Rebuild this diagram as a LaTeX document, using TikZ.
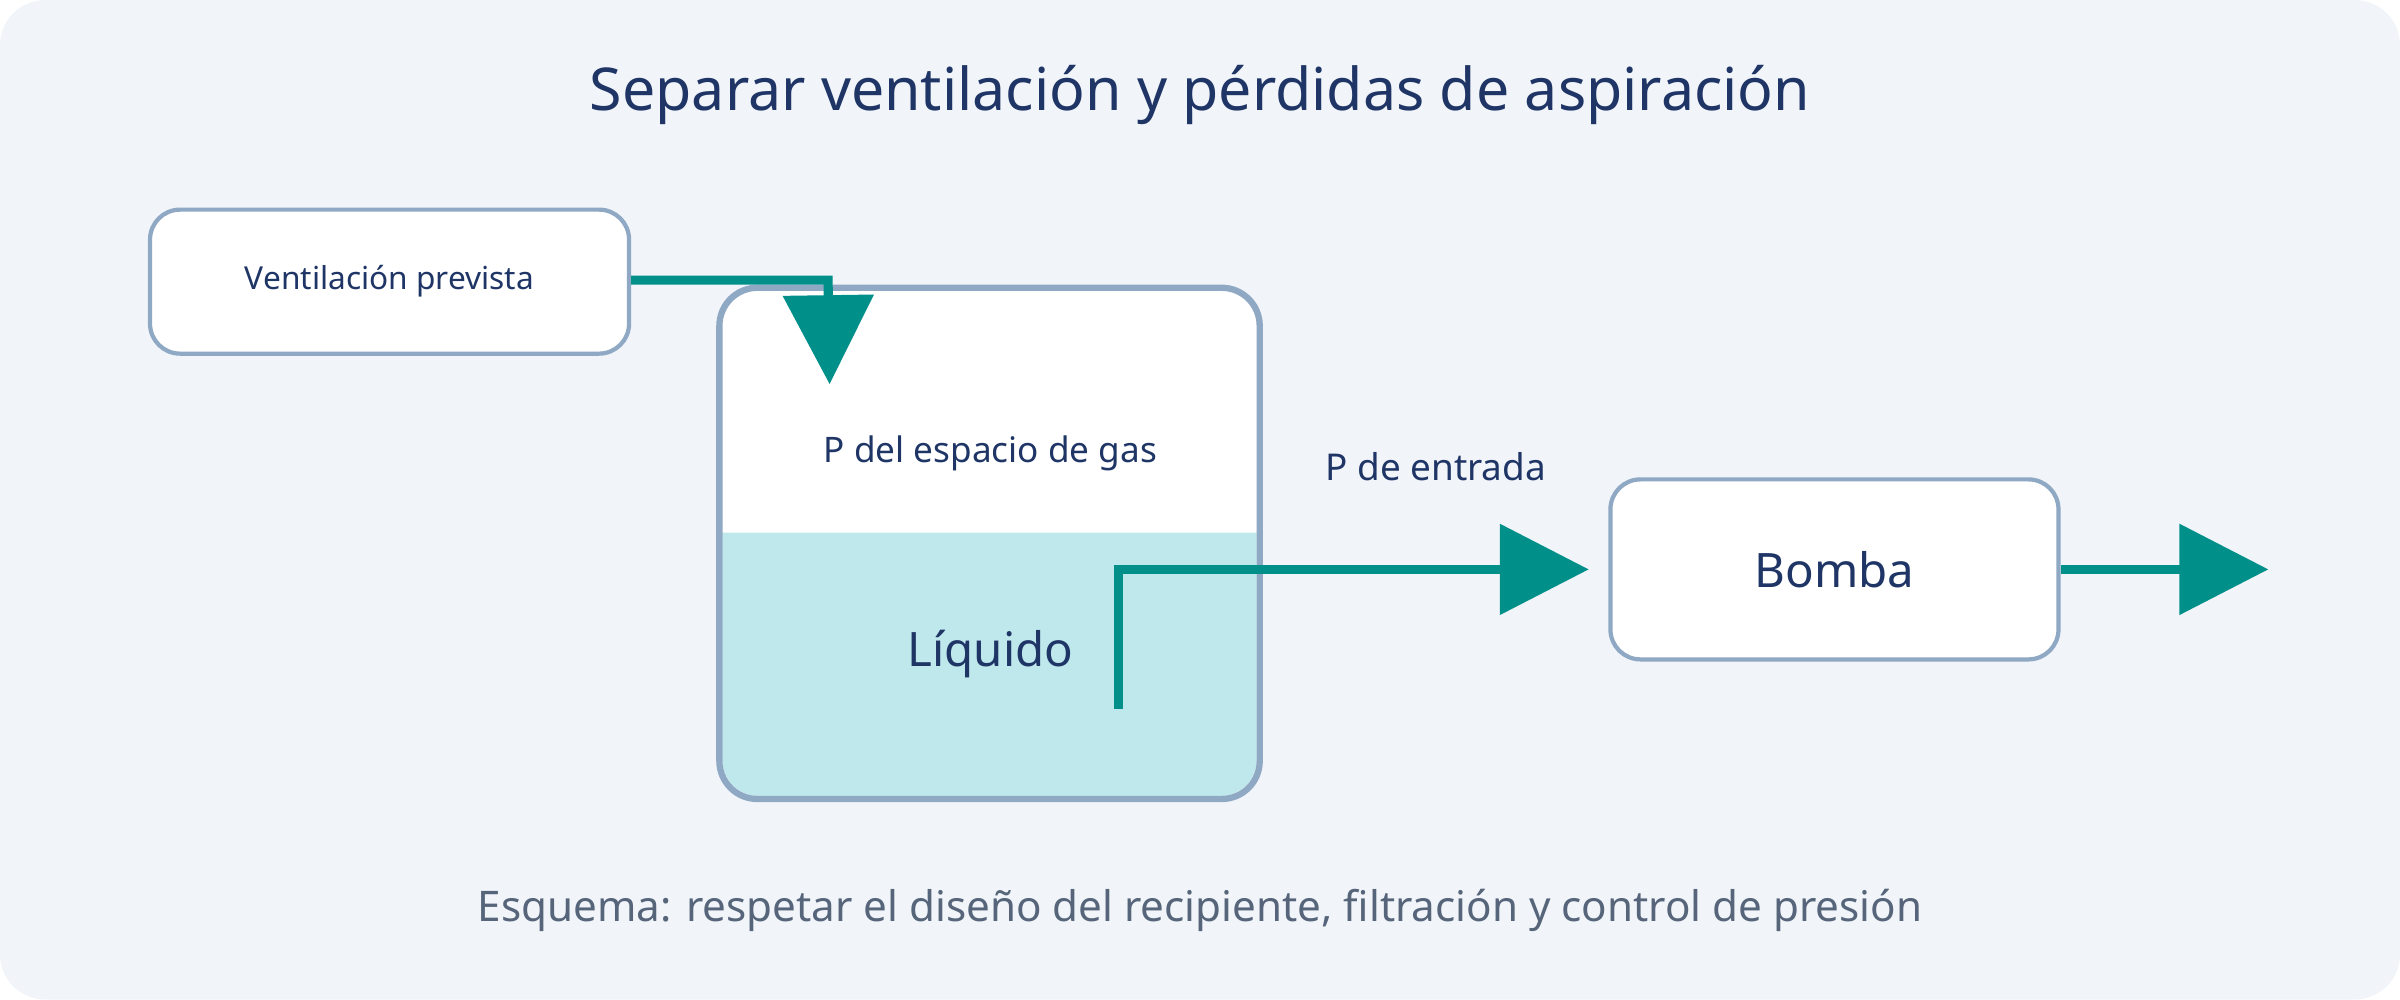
\documentclass[tikz,border=0pt]{standalone}
\usepackage{fontspec}
\setmainfont{Noto Sans}
\usetikzlibrary{arrows.meta,positioning}
\definecolor{navy}{HTML}{1F3566}
\definecolor{edge}{HTML}{8FA8C4}
\definecolor{teal}{HTML}{009089}
\definecolor{liquid}{HTML}{BEE8EC}
\definecolor{bg}{HTML}{F1F5FA}
\definecolor{note}{HTML}{56657A}
\tikzset{
  box/.style={draw=edge, line width=1.2pt, fill=white, rounded corners=0.3cm, text=navy, align=center},
  pipe/.style={draw=teal, line width=2.6pt},
  flow/.style={pipe, -{Triangle[length=0.89cm, width=0.89cm]}},
}
\begin{document}
\begin{tikzpicture}[x=0.0153cm, y=-0.0153cm]
  \fill[bg, rounded corners=0.45cm] (0,0) rectangle (1568,653);
  \node (title) [text=navy, font=\fontsize{16.8}{20}\selectfont] at (784,62) {Separar ventilación y pérdidas de aspiración};
  % tank
  \fill[white, rounded corners=0.38cm] (470,188) rectangle (823,522);
  \fill[liquid] (472,348) -- (821,348) [rounded corners=0.36cm] -- (821,520) -- (472,520) [sharp corners] -- (472,348) -- cycle;
  \draw[edge, line width=1.8pt, rounded corners=0.38cm] (470,188) rectangle (823,522);
  \node (gas) [text=navy, font=\fontsize{10}{12}\selectfont] at (647,296) {P del espacio de gas};
  \node (liq) [text=navy, font=\fontsize{13.5}{16}\selectfont] at (647,427) {Líquido};
  \node (vent) [box, minimum width=4.79cm, minimum height=1.44cm, font=\fontsize{9}{11}\selectfont] at (254.5,184) {Ventilación prevista};
  \node (pump) [box, minimum width=4.48cm, minimum height=1.8cm, font=\fontsize{13.5}{16}\selectfont] at (1198.5,372) {Bomba};
  \node (inlet) [text=navy, font=\fontsize{10.5}{13}\selectfont] at (938,305) {P de entrada};
  \node (caption) [text=note, font=\fontsize{12}{15}\selectfont] at (784,595) {Esquema: respetar el diseño del recipiente, filtración y control de presión};
  \coordinate (ventin) at (542,251);
  \coordinate (suction) at (731,463);
  \coordinate (pumpin) at (1038,372);
  \coordinate (outlet) at (1482,372);
  \draw[flow] (vent.east |- 0,183) -- (541,183) -- (ventin);
  \draw[flow] (suction) -- (731,372) -- (pumpin);
  \draw[flow] (pump.east) -- (outlet);
\end{tikzpicture}
\end{document}
